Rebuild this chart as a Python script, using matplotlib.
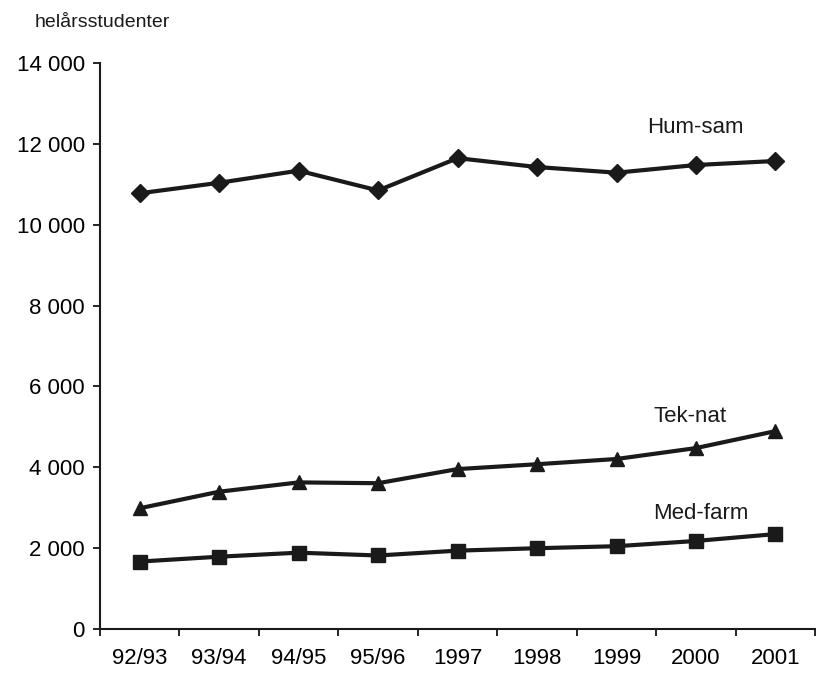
from matplotlib import pyplot as plt
from matplotlib.ticker import FuncFormatter
import numpy as np

plt.rcParams['font.family'] = ['Liberation Sans', 'DejaVu Sans']

years = ["92/93", "93/94", "94/95", "95/96", "1997", "1998", "1999", "2000", "2001"]
hum_sam = [10780, 11040, 11340, 10850, 11650, 11430, 11290, 11480, 11580]
tek_nat = [2980, 3390, 3620, 3600, 3950, 4070, 4200, 4470, 4890]
med_farm = [1660, 1780, 1880, 1810, 1930, 1990, 2040, 2170, 2340]

x = np.arange(len(years))

fig = plt.figure(figsize=(8.16, 6.73), dpi=100)
ax = fig.add_axes([0.1225, 0.066, 0.8765, 0.840])

ax.plot(x, hum_sam, color='#1a1a1a', lw=3, marker='D', ms=9.5)
ax.plot(x, tek_nat, color='#1a1a1a', lw=3, marker='^', ms=10)
ax.plot(x, med_farm, color='#1a1a1a', lw=3, marker='s', ms=10)

# series labels
ax.text(6.38, 12420, "Hum-sam", fontsize=16, ha='left', va='center', color='#1a1a1a')
ax.text(6.47, 5260, "Tek-nat", fontsize=16, ha='left', va='center', color='#1a1a1a')
ax.text(6.46, 2840, "Med-farm", fontsize=16, ha='left', va='center', color='#1a1a1a')

ax.set_xlim(-0.5, 8.5)
ax.set_ylim(0, 14000)
ax.set_yticks(np.arange(0, 14001, 2000))
ax.yaxis.set_major_formatter(FuncFormatter(lambda v, p: f"{int(v):,}".replace(",", " ")))
ax.set_xticks(np.arange(-0.5, 8.6, 1))
ax.set_xticklabels([])
ax.set_xticks(x, minor=True)
ax.set_xticklabels(years, minor=True, fontsize=16)
ax.tick_params(axis='x', which='minor', length=0, pad=14)
ax.tick_params(axis='x', which='major', length=5, width=1.2, direction='out')
ax.tick_params(axis='y', length=5, width=1.2, labelsize=16, pad=6)

for s in ['top', 'right']:
    ax.spines[s].set_visible(False)
for s in ['left', 'bottom']:
    ax.spines[s].set_linewidth(1.5)
    ax.spines[s].set_color('#1a1a1a')

fig.text(0.043, 0.966, "helårsstudenter", fontsize=14, ha='left', va='center', color='#1a1a1a')

plt.savefig("out.png", dpi=100)
